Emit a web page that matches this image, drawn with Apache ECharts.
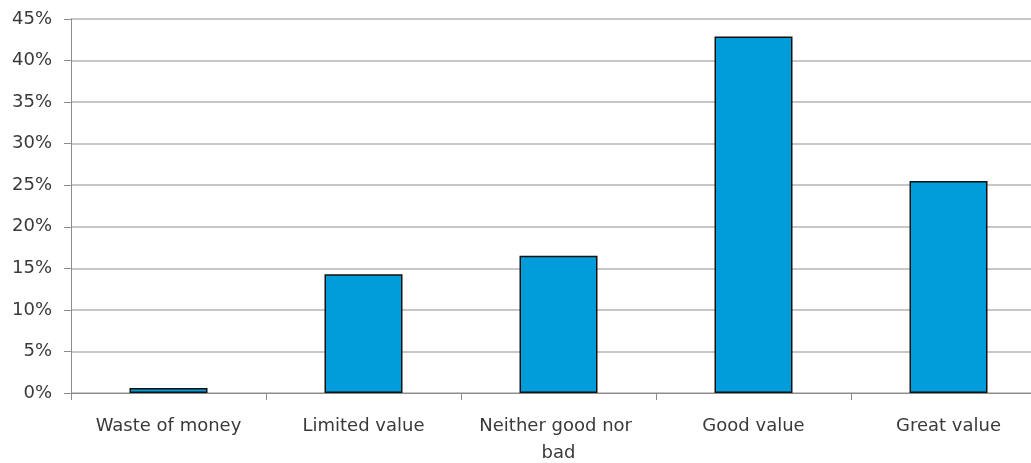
<!DOCTYPE html>
<html>
<head>
<meta charset="utf-8">
<script src="https://cdn.jsdelivr.net/npm/echarts@6/dist/echarts.min.js"></script>
<style>
html,body{margin:0;padding:0;background:#fff;}
#chart{width:1031px;height:463px;}
</style>
</head>
<body>
<div id="chart"></div>
<script>
const categories = ["Waste of money", "Limited value", "Neither good nor bad", "Good value", "Great value"];
const values = [0.6, 14.3, 16.5, 42.9, 25.5];
const yTicks = [0, 5, 10, 15, 20, 25, 30, 35, 40, 45];

const chart = echarts.init(document.getElementById('chart'), null, {renderer: 'canvas'});
chart.setOption({
  animation: false,
  backgroundColor: '#ffffff',
  grid: {left: 71, top: 19, bottom: 70, right: -15, containLabel: false, outerBoundsMode: 'none'},
  xAxis: {
    type: 'category',
    data: categories,
    axisLine: {lineStyle: {color: '#8c8c8c', width: 1}},
    axisTick: {show: true, length: 7, alignWithLabel: false, lineStyle: {color: '#8c8c8c'}},
    axisLabel: {
      color: '#3a3a3a', fontFamily: 'DejaVu Sans, sans-serif', fontSize: 18,
      margin: 20, width: 170, overflow: 'break', lineHeight: 27, interval: 0
    }
  },
  yAxis: {
    type: 'value',
    min: yTicks[0], max: yTicks[yTicks.length - 1], interval: 5,
    axisLine: {show: true, lineStyle: {color: '#8c8c8c', width: 1}},
    axisTick: {show: true, length: 7, lineStyle: {color: '#8c8c8c'}},
    splitLine: {show: true, lineStyle: {color: '#b4b4b4', width: 1.5}},
    axisLabel: {
      color: '#3a3a3a', fontFamily: 'DejaVu Sans, sans-serif', fontSize: 18,
      margin: 19, formatter: v => v + '%'
    }
  },
  series: [{
    type: 'bar',
    data: values,
    barWidth: '40%',
    itemStyle: {color: '#009dda', borderColor: '#111111', borderWidth: 1.5}
  }]
});
</script>
</body>
</html>
